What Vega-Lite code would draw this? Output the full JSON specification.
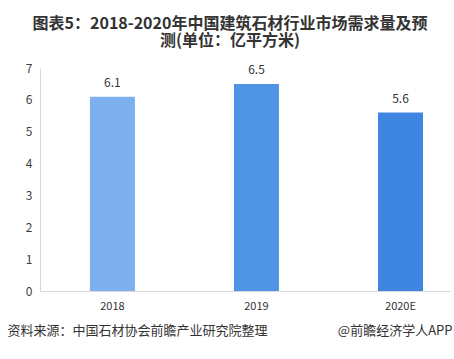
{
  "$schema": "https://vega.github.io/schema/vega-lite/v6.json",
  "width": 410,
  "height": 223,
  "autosize": {"type": "none"},
  "padding": {"left": 40, "top": 68, "right": 4, "bottom": 68},
  "background": "white",
  "config": {
    "font": "Noto Sans CJK SC",
    "view": {"stroke": null}
  },
  "title": {
    "text": ["图表5：2018-2020年中国建筑石材行业市场需求量及预", "测(单位：亿平方米)"],
    "fontSize": 16,
    "fontWeight": "bold",
    "color": "#333333",
    "lineHeight": 17,
    "anchor": "middle",
    "frame": "group",
    "dx": -15,
    "offset": 13
  },
  "data": {
    "values": [
      {"year": "2018", "value": 6.1},
      {"year": "2019", "value": 6.5},
      {"year": "2020E", "value": 5.6}
    ]
  },
  "encoding": {
    "x": {
      "field": "year",
      "type": "nominal",
      "sort": null,
      "scale": {"paddingInner": 0.6875, "paddingOuter": 0.267, "align": 0.649, "round": false},
      "axis": {
        "title": "@前瞻经济学人APP",
        "titleX": 412,
        "titleY": 39,
        "titleAlign": "right",
        "titleBaseline": "middle",
        "titleFontSize": 13,
        "titleFontWeight": "normal",
        "titleColor": "#333333",
        "labelAngle": 0,
        "labelFontSize": 11,
        "labelColor": "#333333",
        "labelPadding": 9,
        "ticks": false,
        "domainColor": "#d9d9d9",
        "domainWidth": 1
      }
    },
    "y": {
      "field": "value",
      "type": "quantitative",
      "scale": {"domain": [0, 7], "nice": false},
      "axis": {
        "values": [0, 1, 2, 3, 4, 5, 6, 7],
        "title": "资料来源：中国石材协会前瞻产业研究院整理",
        "titleAngle": 0,
        "titleX": -33,
        "titleY": 262,
        "titleAlign": "left",
        "titleBaseline": "middle",
        "titleFontSize": 13,
        "titleFontWeight": "normal",
        "titleColor": "#333333",
        "grid": false,
        "ticks": false,
        "labelFontSize": 12,
        "labelColor": "#404040",
        "labelPadding": 8,
        "domainColor": "#d9d9d9"
      }
    }
  },
  "layer": [
    {
      "mark": {"type": "bar"},
      "encoding": {
        "color": {
          "field": "year",
          "type": "nominal",
          "scale": {"domain": ["2018", "2019", "2020E"], "range": ["#7eb0f0", "#5094e6", "#3f86e3"]},
          "legend": null
        }
      }
    },
    {
      "mark": {"type": "text", "dy": -14, "fontSize": 12, "color": "#333333"},
      "encoding": {
        "text": {"field": "value", "type": "quantitative", "format": ".1f"}
      }
    }
  ]
}
